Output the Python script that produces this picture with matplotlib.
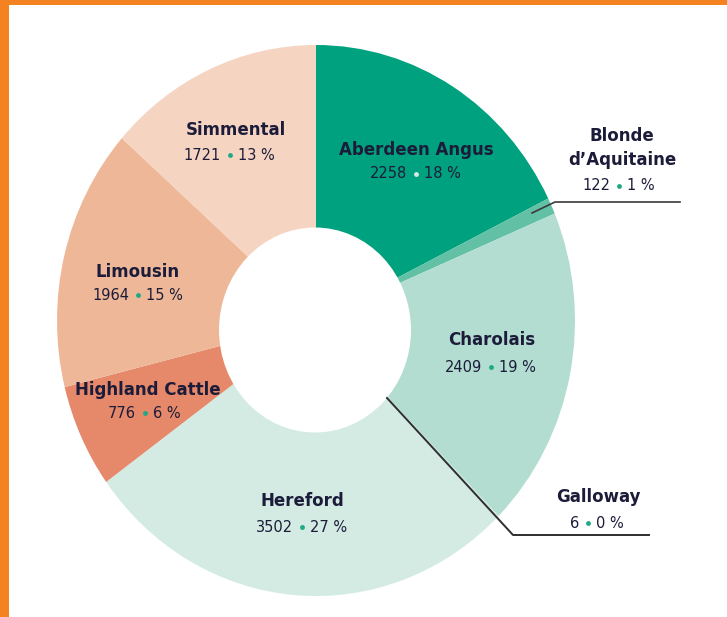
import numpy as np
import matplotlib.pyplot as plt
from matplotlib.patches import Ellipse, Rectangle

# ── data ──────────────────────────────────────────────────────────────────────
breeds = ["Aberdeen Angus", "Blonde\nd’Aquitaine", "Charolais", "Galloway",
          "Hereford", "Highland Cattle", "Limousin", "Simmental"]
counts = [2258, 122, 2409, 6, 3502, 776, 1964, 1721]
colors = ["#00A17E", "#62C1A4", "#B3DDD1", "#B9E0D5",
          "#D3EBE2", "#E5896A", "#EEB898", "#F5D5C2"]

# ── style ─────────────────────────────────────────────────────────────────────
ORANGE = "#F58220"
TEXT = "#1C1C3A"
DOT = "#1FAA85"
FONT = ["Liberation Sans Narrow", "DejaVu Sans"]
plt.rcParams["font.family"] = FONT

W, H = 727, 617
CX, CY = 316, 320.5      # pie centre (px)
RX, RY = 259, 275.5      # outer radii (px)


def px(x, y):
    """pixel position in the picture -> data coords of the pie axes"""
    return (x - CX) / RX, (CY - y) / RY


# label anchor points in pixels: (name centre, value-dot centre)
label_pos = {
    "Aberdeen Angus": ((416, 150), (416, 174)),
    "Blonde\nd’Aquitaine": ((622, 148), (619, 186)),
    "Charolais": ((492, 340), (491, 367)),
    "Galloway": ((598, 497), (588, 523)),
    "Hereford": ((302, 501), (302, 527)),
    "Highland Cattle": ((148, 390), (145, 413)),
    "Limousin": ((138, 272), (138, 295)),
    "Simmental": ((236, 130), (230, 155)),
}
dot_colors = {"Aberdeen Angus": "#D3EBE2"}

fig = plt.figure(figsize=(W / 100, H / 100), dpi=100, facecolor="white")

# orange frame (top + left)
fig.patches.append(Rectangle((0, 1 - 5 / H), 1, 5 / H, transform=fig.transFigure,
                             facecolor=ORANGE, edgecolor="none", zorder=0))
fig.patches.append(Rectangle((0, 0), 9 / W, 1, transform=fig.transFigure,
                             facecolor=ORANGE, edgecolor="none", zorder=0))

ax = fig.add_axes([(CX - RX) / W, (H - CY - RY) / H, 2 * RX / W, 2 * RY / H])
ax.pie(counts, colors=colors, startangle=90, counterclock=False, radius=1,
       wedgeprops=dict(linewidth=0))
ax.set_aspect("auto")
ax.set_xlim(-1, 1)
ax.set_ylim(-1, 1)
ax.axis("off")

# hole (slightly below the pie centre, as in the original)
hx, hy = px(315, 330)
ax.add_patch(Ellipse((hx, hy), 2 * 96 / RX, 2 * 102.5 / RY,
                     facecolor="white", edgecolor="none", zorder=3))

# leader lines for the two tiny slices
lx, ly = zip(px(532, 213), px(555, 202), px(680, 202))
ax.plot(lx, ly, color="#3A3A3A", lw=1.2, clip_on=False, zorder=4)
lx, ly = zip(px(387, 398), px(513, 535), px(649, 535))
ax.plot(lx, ly, color="#2E2E2E", lw=1.4, clip_on=False, zorder=4)

# labels
total = sum(counts)
for name, n in zip(breeds, counts):
    (nx, ny), (dx, dy) = label_pos[name]
    ax.text(*px(nx, ny), name, ha="center", va="center", fontsize=12,
            fontweight="bold", color=TEXT, linespacing=1.45, zorder=5,
            clip_on=False)
    d = px(dx, dy)
    ax.plot(*d, "o", ms=3.5, color=dot_colors.get(name, DOT), mec="none",
            clip_on=False, zorder=5)
    ax.annotate(f"{n}", d, xytext=(-9, 0), textcoords="offset pixels",
                ha="right", va="center", fontsize=10.5, color=TEXT, zorder=5,
                annotation_clip=False)
    ax.annotate(f"{round(n / total * 100)} %", d, xytext=(8, 0),
                textcoords="offset pixels", ha="left", va="center",
                fontsize=10.5, color=TEXT, zorder=5, annotation_clip=False)

fig.savefig("out.png", dpi=100, facecolor="white")
